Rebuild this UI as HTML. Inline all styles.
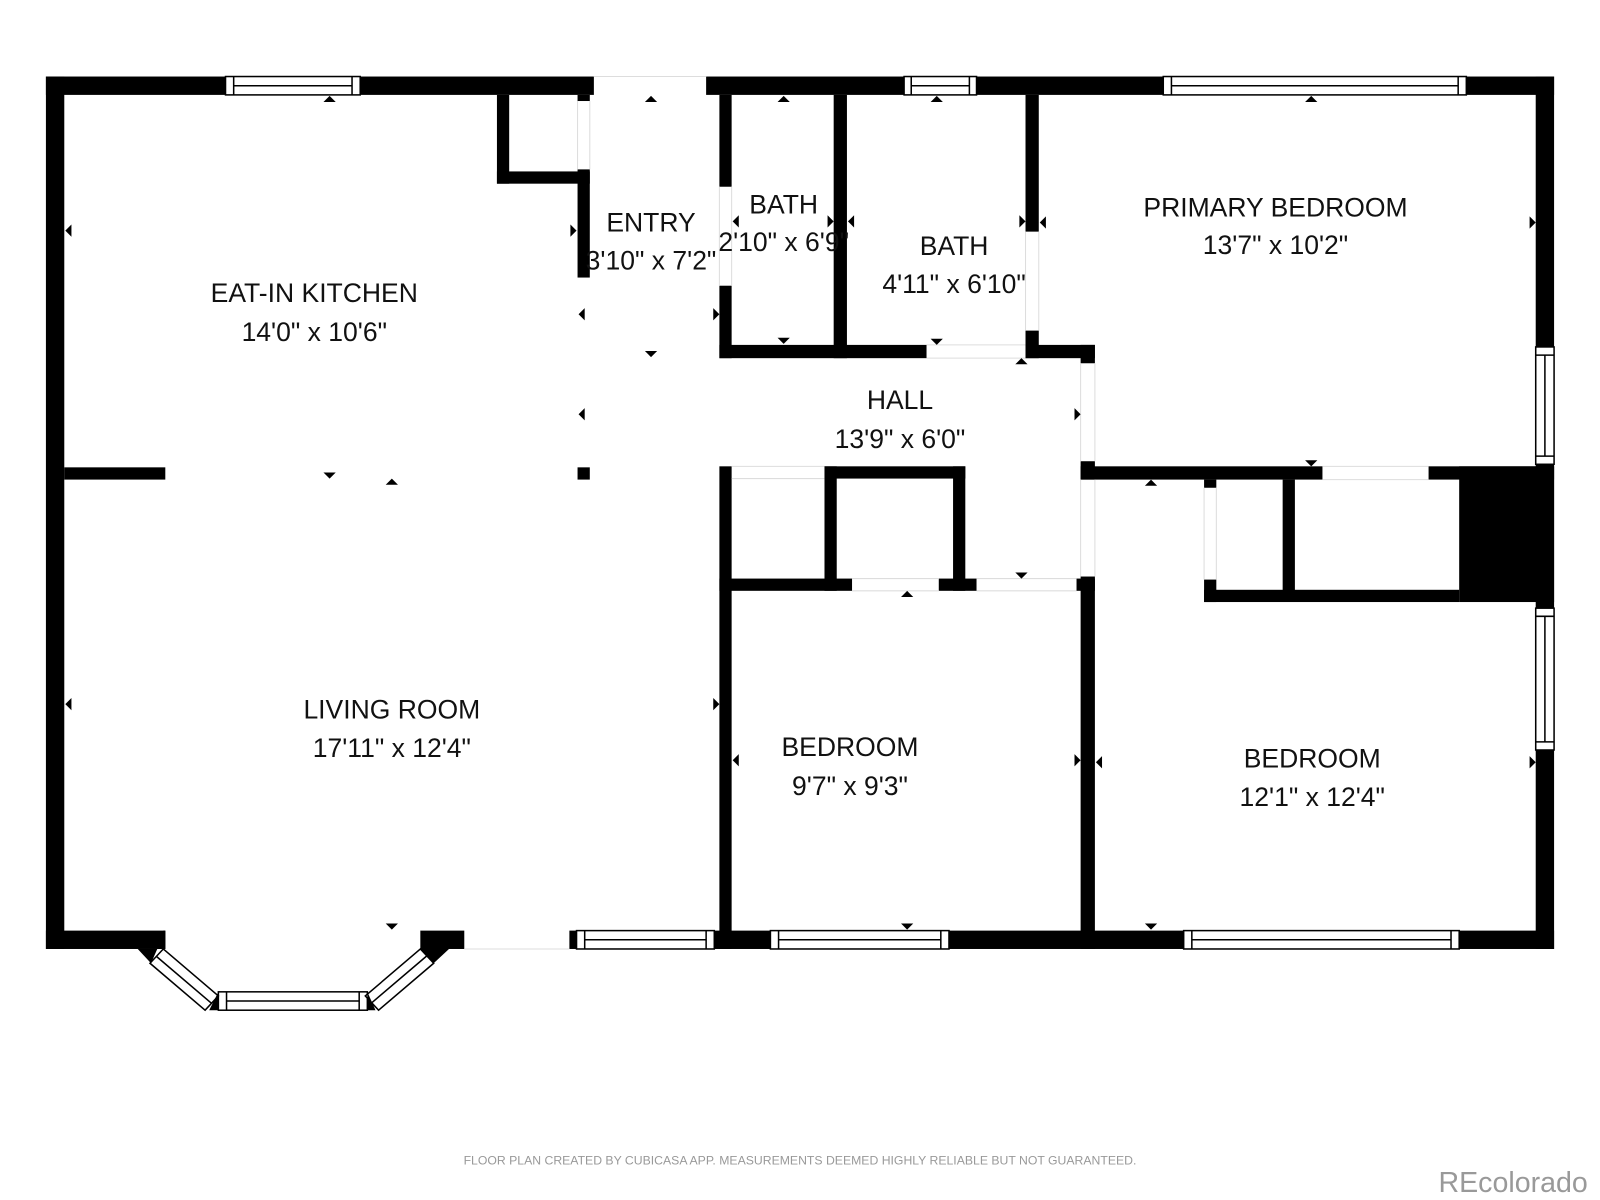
<!DOCTYPE html>
<html><head><meta charset="utf-8"><style>
html,body{margin:0;padding:0;background:#fff;}
svg{display:block;}
text{font-family:"Liberation Sans","DejaVu Sans",sans-serif;fill:#111;}
</style></head><body>
<svg width="1600" height="1200" viewBox="0 0 1568 1176" xmlns="http://www.w3.org/2000/svg">
<defs>
<g id="tu"><polygon points="-6,3 6,3 0,-3" fill="#000"/></g>
<g id="td"><polygon points="-6,-3 6,-3 0,3" fill="#000"/></g>
<g id="tl"><polygon points="3,-6 3,6 -3,0" fill="#000"/></g>
<g id="tr"><polygon points="-3,-6 -3,6 3,0" fill="#000"/></g>
</defs>
<g fill="#000">
<rect x="45" y="75" width="537" height="18"/>
<rect x="692" y="75" width="831" height="18"/>
<rect x="45" y="75" width="18" height="855"/>
<rect x="1505" y="75" width="18" height="855"/>
<rect x="45" y="912" width="117" height="18"/>
<polygon points="135,930 162,930 162,912 160,912 160,930"/>
<rect x="412" y="912" width="43" height="18"/>
<rect x="558" y="912" width="965" height="18"/>
<rect x="487" y="93" width="12" height="87"/>
<rect x="487" y="168" width="91" height="12"/>
<rect x="566" y="93" width="12" height="6"/>
<rect x="566" y="166" width="12" height="106"/>
<rect x="63" y="458" width="99" height="12"/>
<rect x="566" y="458" width="12" height="12"/>
<rect x="705" y="93" width="12" height="90"/>
<rect x="705" y="280" width="12" height="71"/>
<rect x="817" y="93" width="13" height="258"/>
<rect x="705" y="338" width="203" height="13"/>
<rect x="1005" y="93" width="13" height="134"/>
<rect x="1005" y="324" width="13" height="27"/>
<rect x="1005" y="338" width="68" height="13"/>
<rect x="1059" y="338" width="14" height="18"/>
<rect x="1059" y="452" width="14" height="18"/>
<rect x="1059" y="457" width="237" height="13"/>
<rect x="1400" y="457" width="123" height="13"/>
<rect x="1430" y="457" width="93" height="133"/>
<rect x="1180" y="470" width="12" height="8"/>
<rect x="1180" y="568" width="12" height="22"/>
<rect x="1257" y="470" width="12" height="110"/>
<rect x="1180" y="578" width="250" height="12"/>
<rect x="705" y="457" width="12" height="473"/>
<rect x="705" y="567" width="130" height="12"/>
<rect x="920" y="567" width="37" height="12"/>
<rect x="1055" y="567" width="18" height="12"/>
<rect x="808" y="457" width="12" height="122"/>
<rect x="808" y="457" width="138" height="12"/>
<rect x="934" y="457" width="12" height="122"/>
<rect x="1059" y="565" width="14" height="365"/>
</g>
<g stroke="#ddd" stroke-width="1" fill="none">
<line x1="582" y1="75" x2="692" y2="75"/>
<line x1="566" y1="99" x2="566" y2="166"/><line x1="578" y1="99" x2="578" y2="166"/>
<line x1="705" y1="183" x2="705" y2="280"/><line x1="717" y1="183" x2="717" y2="280"/>
<line x1="908" y1="338" x2="1005" y2="338"/><line x1="908" y1="351" x2="1005" y2="351"/>
<line x1="1005" y1="227" x2="1005" y2="324"/><line x1="1018" y1="227" x2="1018" y2="324"/>
<line x1="1059" y1="356" x2="1059" y2="452"/><line x1="1073" y1="356" x2="1073" y2="452"/>
<line x1="1059" y1="470" x2="1059" y2="565"/><line x1="1073" y1="470" x2="1073" y2="565"/>
<line x1="1296" y1="457" x2="1400" y2="457"/><line x1="1296" y1="470" x2="1400" y2="470"/>
<line x1="1180" y1="478" x2="1180" y2="568"/><line x1="1192" y1="478" x2="1192" y2="568"/>
<line x1="717" y1="457" x2="808" y2="457"/><line x1="717" y1="469" x2="808" y2="469"/>
<line x1="835" y1="567" x2="920" y2="567"/><line x1="835" y1="579" x2="920" y2="579"/>
<line x1="957" y1="567" x2="1055" y2="567"/><line x1="957" y1="579" x2="1055" y2="579"/>
<line x1="455" y1="930" x2="558" y2="930"/>
</g>
<g fill="#fff" stroke="#000" stroke-width="1.5">
<rect x="221" y="75" width="132" height="18"/><line x1="229" y1="84" x2="345" y2="84"/><line x1="229" y1="75" x2="229" y2="93"/><line x1="345" y1="75" x2="345" y2="93"/>
<rect x="886" y="75" width="71" height="18"/><line x1="893" y1="84" x2="950" y2="84"/><line x1="893" y1="75" x2="893" y2="93"/><line x1="950" y1="75" x2="950" y2="93"/>
<rect x="1140" y="75" width="297" height="18"/><line x1="1148" y1="84" x2="1429" y2="84"/><line x1="1148" y1="75" x2="1148" y2="93"/><line x1="1429" y1="75" x2="1429" y2="93"/>
<rect x="1505" y="340" width="18" height="115"/><line x1="1514" y1="348" x2="1514" y2="447"/><line x1="1505" y1="348" x2="1523" y2="348"/><line x1="1505" y1="447" x2="1523" y2="447"/>
<rect x="1505" y="596" width="18" height="139"/><line x1="1514" y1="604" x2="1514" y2="727"/><line x1="1505" y1="604" x2="1523" y2="604"/><line x1="1505" y1="727" x2="1523" y2="727"/>
<rect x="565" y="912" width="135" height="18"/><line x1="573" y1="921" x2="692" y2="921"/><line x1="573" y1="912" x2="573" y2="930"/><line x1="692" y1="912" x2="692" y2="930"/>
<rect x="755" y="912" width="175" height="18"/><line x1="763" y1="921" x2="922" y2="921"/><line x1="763" y1="912" x2="763" y2="930"/><line x1="922" y1="912" x2="922" y2="930"/>
<rect x="1160" y="912" width="270" height="18"/><line x1="1168" y1="921" x2="1422" y2="921"/><line x1="1168" y1="912" x2="1168" y2="930"/><line x1="1422" y1="912" x2="1422" y2="930"/>
<rect x="214" y="972" width="146" height="18"/><line x1="222" y1="981" x2="352" y2="981"/><line x1="222" y1="972" x2="222" y2="990"/><line x1="352" y1="972" x2="352" y2="990"/>
<polygon points="160,930 147,944 201,990 214,976"/><line x1="153" y1="937" x2="207" y2="983"/>
<polygon points="412,930 425,944 371,990 358,976"/><line x1="418" y1="937" x2="364" y2="983"/>
</g>
<g fill="#000">
<polygon points="135,930 162,930 162,912 148,944"/>
<polygon points="205,990 214,990 214,972"/>
<polygon points="360,972 360,990 368,990"/>
<polygon points="412,912 440,930 425,944 412,930"/>
</g>
<use href="#tu" x="323" y="97"/><use href="#tu" x="638" y="97"/><use href="#tu" x="768" y="97"/><use href="#tu" x="918" y="97"/><use href="#tu" x="1285" y="97"/>
<use href="#tl" x="67" y="226"/><use href="#tr" x="562" y="226"/>
<use href="#td" x="323" y="466"/><use href="#tu" x="384" y="472"/>
<use href="#tl" x="570" y="308"/><use href="#tr" x="702" y="308"/><use href="#td" x="638" y="347"/>
<use href="#tl" x="570" y="406"/>
<use href="#tl" x="721" y="217"/><use href="#tr" x="814" y="217"/><use href="#td" x="768" y="334"/>
<use href="#tl" x="834" y="217"/><use href="#tr" x="1002" y="217"/><use href="#td" x="918" y="335"/>
<use href="#tl" x="1022" y="218"/><use href="#tr" x="1502" y="218"/><use href="#td" x="1285" y="454"/>
<use href="#tu" x="1001" y="354"/><use href="#tr" x="1056" y="406"/><use href="#td" x="1001" y="564"/>
<use href="#tu" x="1128" y="473"/>
<use href="#tl" x="67" y="690"/><use href="#tr" x="702" y="690"/><use href="#td" x="384" y="908"/>
<use href="#tu" x="889" y="582"/><use href="#tl" x="721" y="745"/><use href="#tr" x="1056" y="745"/><use href="#td" x="889" y="908"/>
<use href="#tl" x="1077" y="747"/><use href="#tr" x="1502" y="747"/><use href="#td" x="1128" y="908"/>
<g font-size="26" text-anchor="middle">
<text x="308" y="296">EAT-IN KITCHEN</text><text x="308" y="334">14'0" x 10'6"</text>
<text x="638" y="227">ENTRY</text><text x="638" y="264">3'10" x 7'2"</text>
<text x="768" y="209">BATH</text><text x="768" y="246">2'10" x 6'9"</text>
<text x="935" y="250">BATH</text><text x="935" y="287">4'11" x 6'10"</text>
<text x="1250" y="212">PRIMARY BEDROOM</text><text x="1250" y="249">13'7" x 10'2"</text>
<text x="882" y="401">HALL</text><text x="882" y="439">13'9" x 6'0"</text>
<text x="384" y="704">LIVING ROOM</text><text x="384" y="742">17'11" x 12'4"</text>
<text x="833" y="741">BEDROOM</text><text x="833" y="779">9'7" x 9'3"</text>
<text x="1286" y="752">BEDROOM</text><text x="1286" y="790">12'1" x 12'4"</text>
</g>
<text x="784" y="1141" font-size="12" text-anchor="middle" style="fill:#999">FLOOR PLAN CREATED BY CUBICASA APP. MEASUREMENTS DEEMED HIGHLY RELIABLE BUT NOT GUARANTEED.</text>
<text x="1556" y="1168" font-size="28" text-anchor="end" style="fill:#999">REcolorado</text>
</svg>
</body></html>
